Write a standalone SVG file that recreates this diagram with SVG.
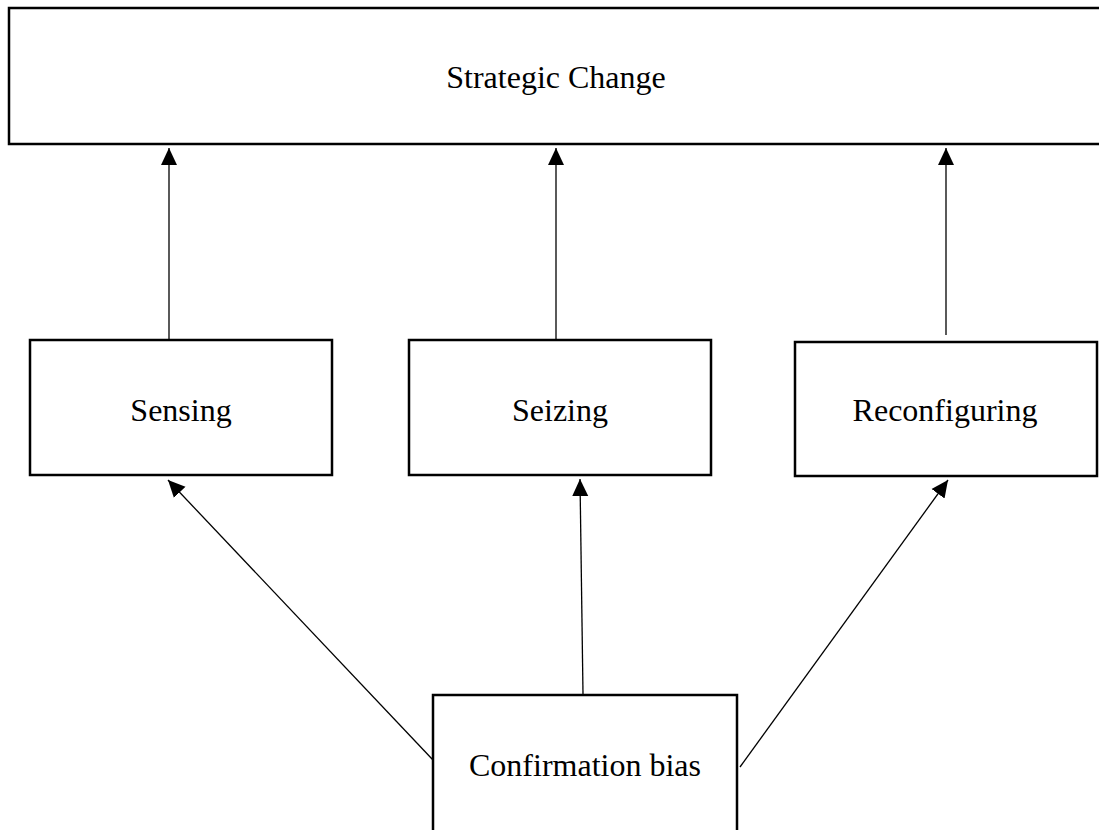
<svg xmlns="http://www.w3.org/2000/svg" width="1099" height="830" viewBox="0 0 1099 830">
<style>
.box{fill:#fff;stroke:#000;stroke-width:2.5}
.lbl{font-family:"Liberation Serif","Times New Roman",serif;font-size:32px;fill:#000;text-anchor:middle}
.con{stroke:#000;stroke-width:1.3;fill:none;marker-end:url(#ah)}
</style>
<defs>
<marker id="ah" markerUnits="userSpaceOnUse" markerWidth="18" markerHeight="18" viewBox="0 0 18 18" refX="17" refY="9" orient="auto">
<path d="M0,1 L17,9 L0,17 Z" fill="#000"/>
</marker>
</defs>
<rect width="1099" height="830" fill="#fff"/>
<g id="strategic-change">
<rect class="box" x="9" y="8" width="1095" height="136"/>
<text class="lbl" x="556" y="88">Strategic Change</text>
</g>
<g id="sensing">
<rect class="box" x="30" y="340" width="302" height="135"/>
<text class="lbl" x="181" y="421">Sensing</text>
</g>
<g id="seizing">
<rect class="box" x="409" y="340" width="302" height="135"/>
<text class="lbl" x="560" y="421">Seizing</text>
</g>
<g id="reconfiguring">
<rect class="box" x="795" y="342" width="302" height="134"/>
<text class="lbl" x="945" y="421">Reconfiguring</text>
</g>
<g id="confirmation-bias">
<rect class="box" x="433" y="695" width="304" height="145"/>
<text class="lbl" x="585" y="776">Confirmation bias</text>
</g>
<g id="connectors">
<line class="con" x1="169" y1="339" x2="169" y2="148"/>
<line class="con" x1="556" y1="339" x2="556" y2="148"/>
<line class="con" x1="946" y1="335" x2="946" y2="148"/>
<line class="con" x1="433" y1="760" x2="168" y2="480"/>
<line class="con" x1="583" y1="694" x2="580" y2="479"/>
<line class="con" x1="740" y1="767" x2="948" y2="480"/>
</g>
</svg>
